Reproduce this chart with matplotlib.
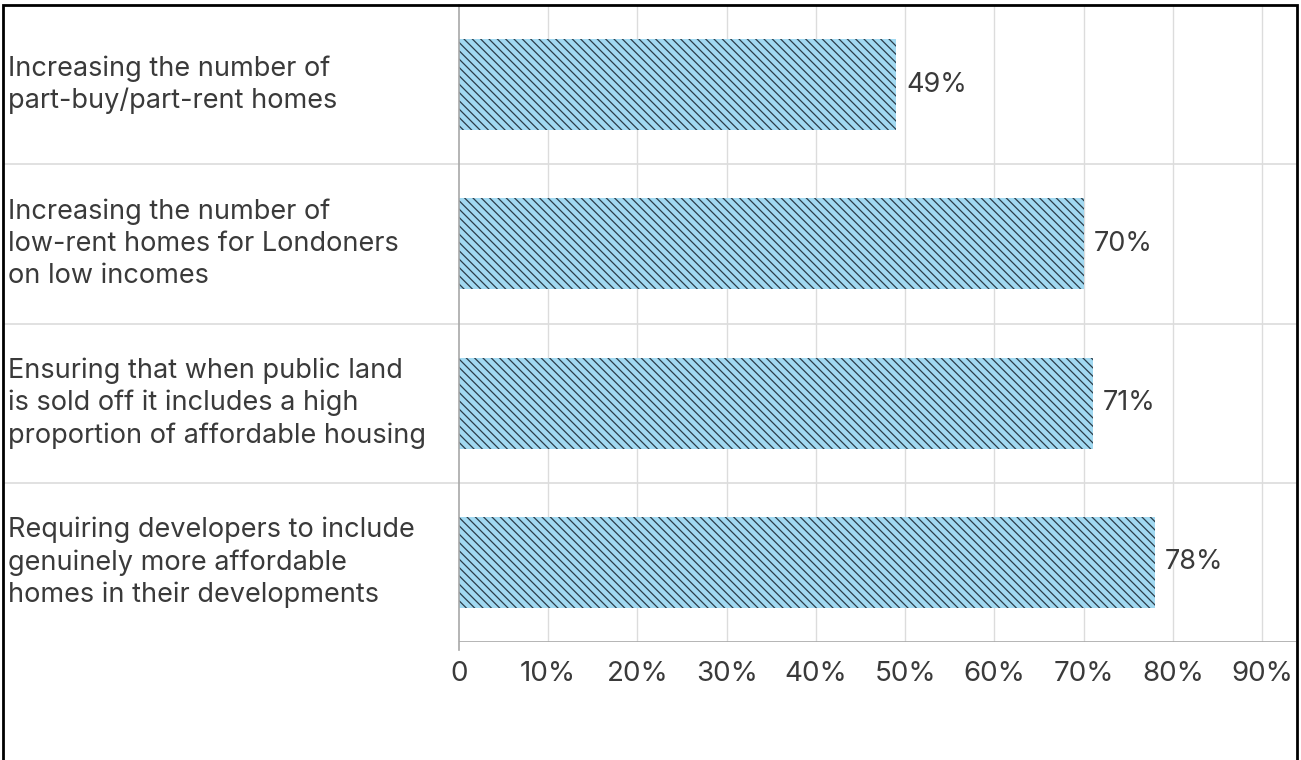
import matplotlib
matplotlib.use("Agg")
import matplotlib.pyplot as plt
import matplotlib.patches as mpatches
import matplotlib.transforms as mtransforms

# --- data ---
categories = [
    "Increasing the number of\npart-buy/part-rent homes",
    "Increasing the number of\nlow-rent homes for Londoners\non low incomes",
    "Ensuring that when public land\nis sold off it includes a high\nproportion of affordable housing",
    "Requiring developers to include\ngenuinely more affordable\nhomes in their developments",
]
values = [49, 70, 71, 78]
tick_values = [0, 10, 20, 30, 40, 50, 60, 70, 80, 90]
tick_labels = ["0", "10%", "20%", "30%", "40%", "50%", "60%", "70%", "80%", "90%"]

# --- style ---
BAR_FILL = "#a2d9f1"
HATCH_COL = "#2b3c48"
GRID_COL = "#dcdcdc"
AXIS_COL = "#a8a8a8"
TEXT_COL = "#3a3a3a"
FS = 19.5

plt.rcParams["font.family"] = ["Inter", "DejaVu Sans"]
plt.rcParams["hatch.linewidth"] = 0.9

W, H = 1301, 760
fig = plt.figure(figsize=(W / 100, H / 100), dpi=100)
fig.patch.set_facecolor("white")

left_px, right_px, top_px, bottom_px = 459, 1296, 5, 642
ax = fig.add_axes([left_px / W, 1 - bottom_px / H,
                   (right_px - left_px) / W, (bottom_px - top_px) / H])

n = len(categories)
ypos = list(range(n))
ax.barh(ypos, values, height=0.57, color=BAR_FILL, edgecolor=HATCH_COL,
        linewidth=0, hatch="\\\\\\\\", zorder=2)

ax.set_xlim(0, 93.8)
ax.set_ylim(n - 0.5, -0.5)

# vertical grid
for t in tick_values[1:]:
    ax.axvline(t, color=GRID_COL, lw=1, zorder=1)

# zero line and bottom axis
ax.axvline(0, ymin=-0.013, ymax=1, color=AXIS_COL, lw=1.2, zorder=3, clip_on=False)
ax.axhline(n - 0.5, color=AXIS_COL, lw=1.2, zorder=3)

# category separators running across the label area
xmin_frac = (4 - left_px) / (right_px - left_px)
for b in [i + 0.5 for i in range(n - 1)]:
    ax.axhline(b, xmin=xmin_frac, xmax=1, color=GRID_COL, lw=1.2, zorder=1, clip_on=False)

# category labels
trans = mtransforms.blended_transform_factory(ax.transAxes, ax.transData)
label_x = (8 - left_px) / (right_px - left_px)
for y, cat in zip(ypos, categories):
    ax.text(label_x, y, cat, transform=trans, ha="left", va="center",
            fontsize=FS, color=TEXT_COL, linespacing=1.3)

# value labels
for y, v in zip(ypos, values):
    ax.annotate(f"{v}%", xy=(v, y), xytext=(7, 0), textcoords="offset points",
                ha="left", va="center", fontsize=FS, color=TEXT_COL)

ax.set_xticks(tick_values)
ax.set_xticklabels(tick_labels, fontsize=20, color=TEXT_COL)
ax.tick_params(axis="x", length=0, pad=14)
ax.set_yticks([])
for s in ax.spines.values():
    s.set_visible(False)

# outer frame
fig.add_artist(mpatches.Rectangle((3 / W, -0.05), (1297 - 3) / W, 1 - 5 / H + 0.05,
                                  transform=fig.transFigure, fill=False,
                                  ec="black", lw=2))

fig.savefig("out.png", dpi=100)
